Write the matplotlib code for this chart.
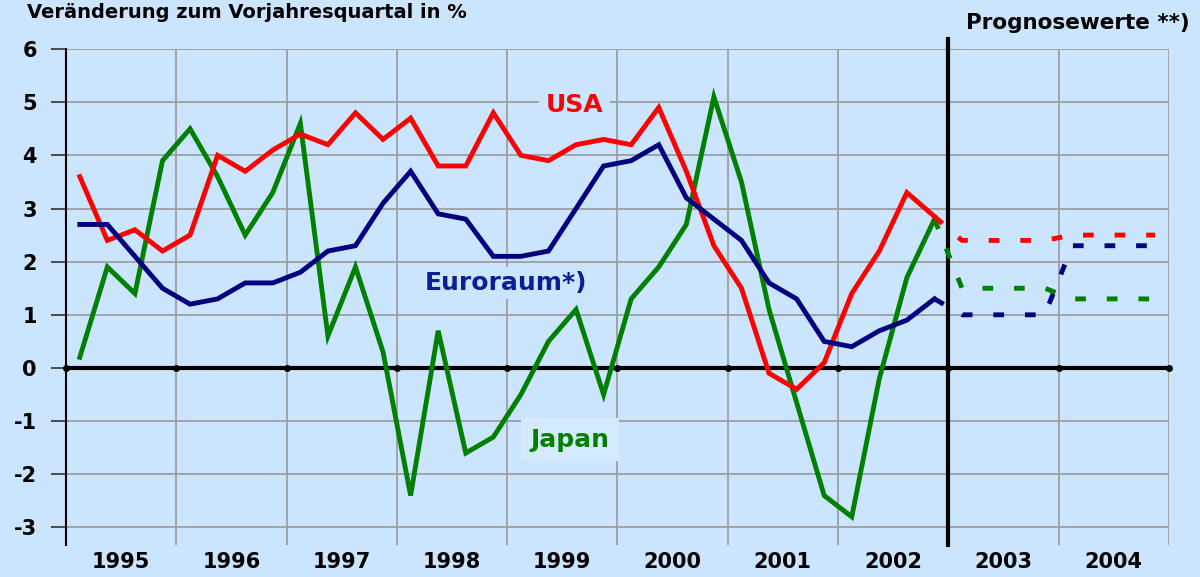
import numpy as np
import matplotlib.pyplot as plt

plt.rcParams['font.family'] = ['DejaVu Sans']
plt.rcParams['font.weight'] = 'bold'

# quarterly values 1995 Q1 - 2002 Q4 (solid) and forecast 2003 Q1 - 2004 Q4 (dashed)
usa = [3.6, 2.4, 2.6, 2.2, 2.5, 4.0, 3.7, 4.1, 4.4, 4.2, 4.8, 4.3, 4.7, 3.8, 3.8, 4.8,
       4.0, 3.9, 4.2, 4.3, 4.2, 4.9, 3.7, 2.3, 1.5, -0.1, -0.4, 0.1, 1.4, 2.2, 3.3, 2.85]
euro = [2.7, 2.7, 2.1, 1.5, 1.2, 1.3, 1.6, 1.6, 1.8, 2.2, 2.3, 3.1, 3.7, 2.9, 2.8, 2.1,
        2.1, 2.2, 3.0, 3.8, 3.9, 4.2, 3.2, 2.8, 2.4, 1.6, 1.3, 0.5, 0.4, 0.7, 0.9, 1.3]
japan = [0.2, 1.9, 1.4, 3.9, 4.5, 3.6, 2.5, 3.3, 4.6, 0.6, 1.9, 0.3, -2.4, 0.7, -1.6, -1.3,
         -0.5, 0.5, 1.1, -0.5, 1.3, 1.9, 2.7, 5.1, 3.5, 1.1, -0.65, -2.4, -2.8, -0.2, 1.7, 2.8]
usa_f = [2.4, 2.4, 2.4, 2.4, 2.5, 2.5, 2.5, 2.5]
euro_f = [1.0, 1.0, 1.0, 1.0, 2.3, 2.3, 2.3, 2.3]
japan_f = [1.5, 1.5, 1.5, 1.5, 1.3, 1.3, 1.3, 1.3]
years = [1995, 1996, 1997, 1998, 1999, 2000, 2001, 2002, 2003, 2004]

bg = '#cce5ff'
x = 1995 + (np.arange(len(usa)) + 0.5) / 4.0
xf = 1995 + (np.arange(len(usa) - 1, len(usa) + len(usa_f)) + 0.5) / 4.0

fig = plt.figure(figsize=(12, 5.77), dpi=100)
fig.patch.set_facecolor(bg)
ax = fig.add_axes([0.055, 0.0555, 0.919, 0.8595])
ax.set_facecolor(bg)
ax.set_xlim(1995, 2005)
ax.set_ylim(-3.33, 6)

for y in range(-3, 7):
    ax.axhline(y, color='#999999', lw=1.2, zorder=1)
for yr in range(1996, 2006):
    ax.axvline(yr, color='#999999', lw=1.2, zorder=1)

ax.axhline(0, color='black', lw=3, zorder=2)
ax.plot(range(1995, 2006), [0] * 11, 'o', color='black', ms=4, zorder=2, clip_on=False)
ax.plot([2003, 2003], [-3.33, 6.18], color='black', lw=3, zorder=2, clip_on=False)

dash = (0, (2.2, 4.3))
ax.plot(x, usa, color='#ff0000', lw=3.5, zorder=4, solid_joinstyle='miter')
ax.plot(x, euro, color='#000080', lw=3.5, zorder=4, solid_joinstyle='miter')
ax.plot(x, japan, color='#008000', lw=3.5, zorder=3, solid_joinstyle='miter')
ax.plot(xf, [usa[-1]] + usa_f, color='#ff0000', lw=3.5, linestyle=dash, zorder=4)
ax.plot(xf, [euro[-1]] + euro_f, color='#000080', lw=3.5, linestyle=dash, zorder=4)
ax.plot(xf, [japan[-1]] + japan_f, color='#008000', lw=3.5, linestyle=dash, zorder=3)

ax.text(1999.61, 4.94, 'USA', color='#ff0000', fontsize=18, fontweight='bold',
        ha='center', va='center', zorder=3,
        bbox=dict(facecolor=bg, edgecolor='none', pad=5))
ax.text(1998.99, 1.6, 'Euroraum*)', color='#0a1e96', fontsize=18, fontweight='bold',
        ha='center', va='center', zorder=3,
        bbox=dict(facecolor=bg, edgecolor='none', pad=3))
ax.text(1999.57, -1.35, 'Japan', color='#008000', fontsize=18, fontweight='bold',
        ha='center', va='center', zorder=3,
        bbox=dict(facecolor='#d6eafd', edgecolor='none', pad=7))

for s in ['top', 'right', 'bottom']:
    ax.spines[s].set_visible(False)
ax.spines['left'].set_linewidth(1.5)
ax.spines['left'].set_zorder(5)

ax.set_yticks(range(-3, 7))
ax.set_yticklabels([str(v) for v in range(-3, 7)], fontsize=15, fontweight='bold')
ax.tick_params(axis='y', length=11, width=1.2, color='#333333', pad=10)

ax.set_xticks(range(1995, 2006))
ax.set_xticklabels([])
ax.set_xticks([yr + 0.5 for yr in years], minor=True)
ax.set_xticklabels([str(yr) for yr in years], minor=True, fontsize=15, fontweight='bold')
ax.tick_params(axis='x', which='both', length=0, pad=5)

fig.text(27 / 1200, 1 - 18 / 577, 'Veränderung zum Vorjahresquartal in %', fontsize=14,
         fontweight='bold', ha='left', va='baseline')
fig.text(1190 / 1200, 1 - 29 / 577, 'Prognosewerte **)', fontsize=15.5,
         fontweight='bold', ha='right', va='baseline')

fig.savefig('out.png', dpi=100, facecolor=bg)
